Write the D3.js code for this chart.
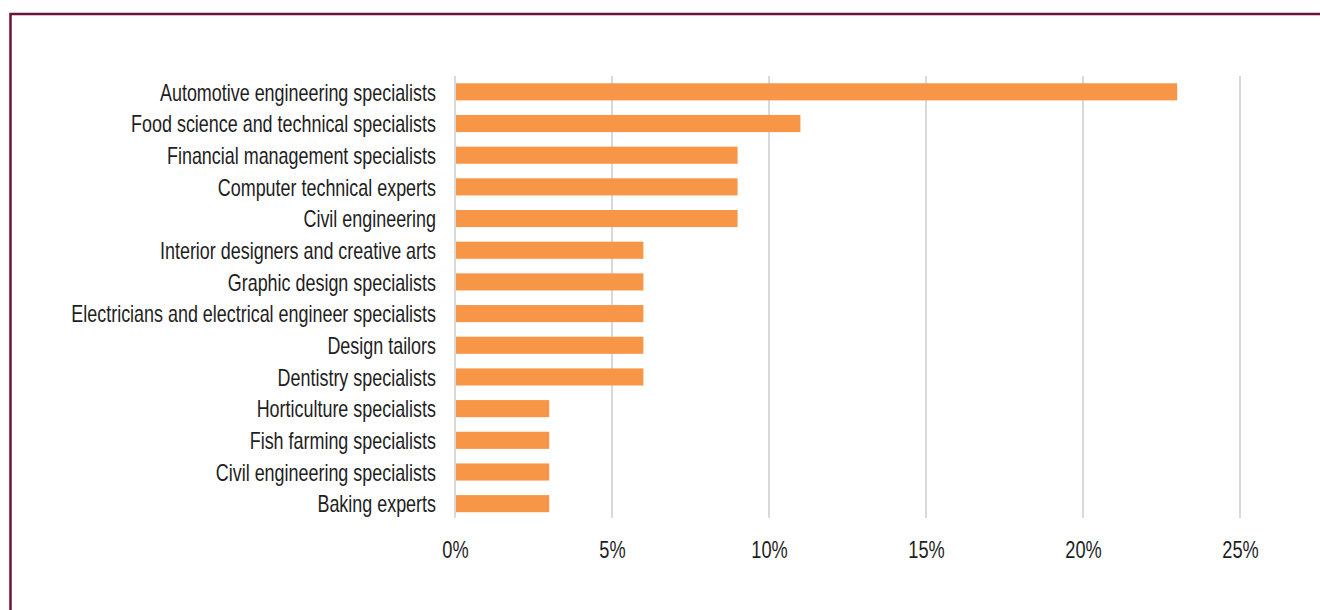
<!DOCTYPE html>
<html>
<head>
<meta charset="utf-8">
<script src="https://cdn.jsdelivr.net/npm/d3@7"></script>
<style>
  html, body { margin: 0; padding: 0; background: #fff; }
  svg { display: block; }
  .lbl { font-family: "Liberation Sans", Arial, sans-serif; fill: #1e1e1e; }
</style>
</head>
<body>
<svg id="chart" width="1320" height="610"></svg>
<script>
// Share of respondents by specialisation
const categories = [
  "Automotive engineering specialists",
  "Food science and technical specialists",
  "Financial management specialists",
  "Computer technical experts",
  "Civil engineering",
  "Interior designers and creative arts",
  "Graphic design specialists",
  "Electricians and electrical engineer specialists",
  "Design tailors",
  "Dentistry specialists",
  "Horticulture specialists",
  "Fish farming specialists",
  "Civil engineering specialists",
  "Baking experts"
];
const values = [23, 11, 9, 9, 9, 6, 6, 6, 6, 6, 3, 3, 3, 3];
const tickValues = [0, 5, 10, 15, 20, 25];
const tickLabels = ["0%", "5%", "10%", "15%", "20%", "25%"];

const svg = d3.select("#chart");

// Frame
svg.append("path")
  .attr("d", "M10.5,612 L10.5,14 L1322,14")
  .attr("fill", "none")
  .attr("stroke", "#6d1239")
  .attr("stroke-width", 2.5);

const x = d3.scaleLinear().domain([0, 25]).range([455, 1240]);
const y = d3.scaleBand().domain(categories).range([76, 519.5]).paddingInner(0.46).paddingOuter(0.23);

// Vertical gridlines
svg.append("g").selectAll("line").data(tickValues).join("line")
  .attr("x1", d => x(d)).attr("x2", d => x(d))
  .attr("y1", 76).attr("y2", 518)
  .attr("stroke", "#d9d9d9").attr("stroke-width", 2);

// Bars
svg.append("g").selectAll("rect").data(values).join("rect")
  .attr("x", x(0) + 1)
  .attr("y", (d, i) => y(categories[i]))
  .attr("width", d => x(d) - x(0) - 1)
  .attr("height", y.bandwidth())
  .attr("fill", "#f79646");

// Category labels (condensed type)
const yAxis = d3.axisLeft(y).tickSize(0).tickPadding(0);
const gy = svg.append("g").attr("transform", "translate(436,0)").call(yAxis);
gy.select(".domain").remove();
gy.selectAll("text")
  .attr("class", "lbl")
  .attr("font-size", 23)
  .attr("fill", "#1e1e1e")
  .attr("dy", "0.38em")
  .attr("transform", "scale(0.78,1)");

// Value axis labels
const xAxis = d3.axisBottom(x).tickValues(tickValues)
  .tickFormat((d, i) => tickLabels[i]).tickSize(0).tickPadding(0);
const gx = svg.append("g").attr("transform", "translate(0,558)").call(xAxis);
gx.select(".domain").remove();
gx.selectAll("text")
  .attr("class", "lbl")
  .attr("font-size", 24)
  .attr("fill", "#1e1e1e")
  .attr("y", 0)
  .attr("dy", 0)
  .attr("transform", "scale(0.76,1)");
</script>
</body>
</html>
